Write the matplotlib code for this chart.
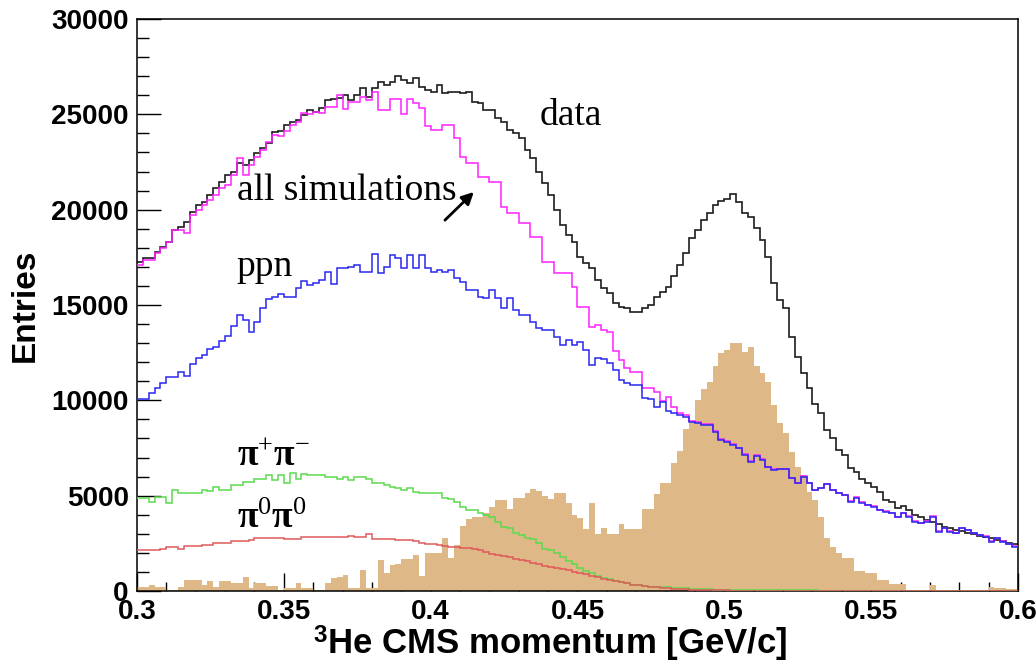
import numpy as np
import matplotlib
matplotlib.use("Agg")
import matplotlib.pyplot as plt
from matplotlib.ticker import MultipleLocator, FuncFormatter

# 150 bins of 2 MeV/c between 0.3 and 0.6 GeV/c
p_lo, p_hi, n_bins = 0.3, 0.6, 150

data = [
    17270, 17450, 17450, 17800, 18060, 18320, 18930, 19110, 19370, 19900,
    20250, 20420, 20770, 21120, 21470, 21820, 21990, 22430, 22350, 22600,
    22960, 23220, 23480, 24090, 24140, 24440, 24620, 24730, 24970, 25230,
    25140, 25320, 25750, 25790, 25840, 26010, 25750, 26010, 26370, 25930,
    26370, 26710, 26540, 26710, 27010, 26800, 26630, 26890, 26450, 26300,
    26190, 26540, 26100, 26190, 26150, 26100, 26190, 25670, 25580, 25230,
    25230, 24790, 24620, 24180, 24000, 23740, 23130, 22700, 21990, 21390,
    20770, 19980, 19200, 18670, 18320, 17530, 17190, 16930, 16310, 15900,
    15610, 15090, 14910, 14830, 14650, 14650, 14830, 15000, 15440, 15700,
    15960, 16500, 17100, 17750, 18500, 18930, 19460, 19810, 20250, 20470,
    20550, 20820, 20420, 19810, 19630, 19020, 18410, 17530, 16140, 15260,
    14830, 13340, 12290, 11420, 10630, 9800, 9320, 8440, 8000, 7400,
    7130, 6430, 6250, 5900, 5640, 5460, 5200, 4770, 4680, 4330,
    4460, 4250, 3990, 3900, 3720, 3640, 3500, 3370, 3280, 3200,
    3150, 3020, 3000, 2900, 2850, 2800, 2680, 2600, 2540, 2450,
]

all_sim = [
    17100, 17360, 17360, 17710, 17970, 18320, 18930, 18930, 18790, 19720,
    19980, 20250, 20510, 20770, 21120, 21290, 21820, 22700, 21820, 22340,
    22780, 23130, 23570, 23920, 23880, 24140, 24440, 24620, 25060, 25040,
    25140, 25060, 25400, 25400, 26010, 25260, 25670, 25670, 25930, 25760,
    26190, 25230, 25230, 25790, 25790, 25000, 25800, 25600, 25320, 24370,
    24180, 24180, 24440, 24440, 23740, 22760, 22450, 22450, 21720, 21720,
    21450, 21450, 20160, 19830, 19830, 19300, 19300, 18570, 18570, 17260,
    17260, 16680, 16680, 16680, 15950, 14900, 14900, 13850, 13940, 13690,
    13600, 12600, 12100, 11700, 11500, 11500, 10650, 10650, 10420, 9980,
    10200, 9630, 9360, 9230, 8920, 8840, 8740, 8740, 8400, 7960,
    7860, 7690, 7510, 7160, 6810, 7110, 6900, 6520, 6380, 6410,
    6410, 5930, 5670, 6020, 5670, 5320, 5410, 5630, 5320, 5140,
    5060, 4710, 4920, 4650, 4530, 4440, 4270, 4180, 4090, 3880,
    4090, 3920, 3660, 3570, 3660, 3920, 3130, 3300, 3130, 3040,
    3300, 3220, 3040, 2960, 2870, 2610, 2780, 2610, 2490, 2340,
]

ppn = [
    10050, 10050, 10370, 10630, 10930, 11240, 11240, 11500, 11270, 11900,
    12200, 12380, 12680, 12820, 13130, 13380, 13900, 14480, 14220, 13600,
    14130, 14830, 15300, 15440, 15580, 15440, 15440, 15880, 16280, 16030,
    16140, 16310, 16750, 16100, 16930, 16930, 17010, 17100, 16750, 16750,
    17680, 16660, 17010, 17620, 17450, 16930, 17620, 16930, 17620, 16930,
    16750, 16840, 16750, 16840, 16400, 16220, 15790, 15790, 15440, 15350,
    15790, 15350, 14830, 15350, 14740, 14480, 14480, 14130, 13780, 13690,
    13690, 13340, 12900, 13160, 12900, 13070, 12640, 11850, 12200, 12150,
    11950, 11600, 11070, 10900, 10800, 10800, 10100, 10050, 9630, 9900,
    9450, 9320, 9230, 9150, 8880, 8800, 8700, 8700, 8360, 7920,
    7830, 7660, 7480, 7130, 6780, 7080, 6870, 6490, 6350, 6390,
    6390, 5910, 5650, 6000, 5650, 5300, 5390, 5610, 5300, 5120,
    5040, 4690, 4900, 4630, 4510, 4420, 4250, 4160, 4070, 3860,
    4070, 3900, 3640, 3550, 3640, 3900, 3110, 3280, 3110, 3020,
    3280, 3200, 3020, 2940, 2850, 2590, 2760, 2590, 2470, 2320,
]

pipi_charged = [
    4860, 4860, 4690, 4950, 4950, 4640, 5300, 5120, 5120, 5120,
    5120, 5300, 5250, 5470, 5300, 5320, 5560, 5560, 5730, 5730,
    5900, 5860, 6080, 5820, 6080, 5640, 6210, 5900, 6160, 6080,
    6080, 6080, 6000, 6000, 5860, 5960, 5820, 5960, 5960, 5860,
    5640, 5640, 5560, 5470, 5420, 5300, 5380, 5210, 5150, 5150,
    5120, 5120, 4860, 4800, 4690, 4400, 4250, 4250, 4110, 4000,
    3900, 3600, 3380, 3300, 3020, 2950, 2770, 2720, 2500, 2200,
    2150, 1980, 1760, 1580, 1400, 1190, 1070, 930, 790, 670,
    620, 520, 490, 410, 320, 300, 280, 230, 220, 210,
    200, 160, 150, 140, 130, 100, 90, 80, 75, 70,
    65, 60, 55, 50, 50, 45, 45, 40, 40, 35,
    35, 35, 30, 30, 30, 30, 25, 25, 25, 25,
    25, 20, 20, 20, 20, 20, 20, 20, 15, 15,
    15, 15, 15, 15, 15, 15, 15, 10, 10, 10,
    10, 10, 10, 10, 10, 10, 10, 10, 10, 10,
]

pipi_neutral = [
    2150, 2150, 2160, 2170, 2200, 2290, 2290, 2200, 2360, 2360,
    2370, 2410, 2410, 2540, 2540, 2540, 2600, 2640, 2640, 2660,
    2760, 2760, 2760, 2760, 2800, 2730, 2730, 2740, 2820, 2820,
    2820, 2830, 2820, 2850, 2850, 2850, 2860, 2850, 2850, 2980,
    2730, 2720, 2720, 2710, 2700, 2660, 2660, 2600, 2500, 2480,
    2460, 2420, 2380, 2330, 2300, 2280, 2240, 2180, 2140, 2060,
    1960, 1900, 1860, 1800, 1700, 1620, 1560, 1480, 1420, 1330,
    1270, 1200, 1140, 1080, 1020, 960, 880, 800, 720, 640,
    580, 520, 460, 400, 340, 300, 260, 230, 200, 170,
    150, 120, 100, 80, 70, 60, 50, 40, 35, 30,
    28, 26, 24, 22, 20, 20, 18, 18, 16, 16,
    15, 15, 15, 15, 14, 14, 14, 14, 13, 13,
    13, 13, 12, 12, 12, 12, 12, 11, 11, 11,
    11, 11, 10, 10, 10, 10, 10, 10, 10, 10,
    10, 10, 10, 10, 10, 10, 10, 10, 10, 10,
]

# data minus all simulations (filled)
residual = [
    200, 200, 300, 200, 200, 50, 50, 200, 580, 580,
    580, 300, 500, 200, 500, 500, 400, 400, 750, 150,
    430, 430, 260, 260, 50, 150, 150, 430, 150, 150,
    50, 50, 400, 690, 750, 850, 150, 150, 1090, 150,
    150, 1650, 950, 1350, 1400, 1680, 1700, 1890, 800, 2000,
    2000, 2000, 2780, 1750, 2400, 3430, 3800, 3880, 3900, 4110,
    4400, 4780, 4780, 4300, 4900, 4900, 5160, 5330, 5220, 5000,
    4800, 5120, 5140, 4600, 4000, 3850, 3230, 4630, 2970, 3320,
    2970, 2970, 3500, 3230, 3230, 3230, 4280, 4280, 5070, 5680,
    5680, 6730, 7340, 8480, 8850, 10020, 10600, 10950, 11800, 12480,
    12640, 13020, 13020, 12560, 12800, 11800, 11430, 10980, 9760, 8810,
    8280, 7290, 6500, 6080, 5200, 4770, 3890, 2780, 2310, 1980,
    1720, 1720, 1050, 1050, 920, 920, 590, 590, 390, 350,
    350, 60, 60, 60, 60, 300, 30, 30, 30, 30,
    30, 30, 30, 30, 30, 210, 150, 150, 100, 100,
]

edges = np.linspace(p_lo, p_hi, n_bins + 1)

plt.rcParams["font.family"] = "Liberation Sans"
plt.rcParams["mathtext.fontset"] = "custom"
plt.rcParams["mathtext.rm"] = "Liberation Serif"
plt.rcParams["mathtext.it"] = "Liberation Serif:italic"
plt.rcParams["mathtext.bf"] = "Liberation Serif:bold"
plt.rcParams["mathtext.sf"] = "Liberation Sans:bold"

fig = plt.figure(figsize=(10.36, 6.63), dpi=100)
ax = fig.add_axes([0.1322, 0.1086, 0.8504, 0.8627])

ax.stairs(residual, edges, fill=True, baseline=0, color="#DEB887", lw=0, zorder=1)
ax.stairs(data, edges, baseline=None, color="#1c1c1c", lw=1.2, zorder=2)
ax.stairs(all_sim, edges, baseline=None, color="#FF22FF", lw=1.1, zorder=3)
ax.stairs(ppn, edges, baseline=None, color="#2828F0", lw=1.1, zorder=4)
ax.stairs(pipi_charged, edges, baseline=None, color="#5CDA4E", lw=1.1, zorder=5)
ax.stairs(pipi_neutral, edges, baseline=None, color="#E05A5A", lw=1.1, zorder=6)

ax.set_xlim(p_lo, p_hi)
ax.set_ylim(0, 30000)
ax.set_axisbelow(True)

ax.xaxis.set_major_locator(MultipleLocator(0.05))
ax.xaxis.set_minor_locator(MultipleLocator(0.01))
ax.yaxis.set_major_locator(MultipleLocator(5000))
ax.yaxis.set_minor_locator(MultipleLocator(1000))
ax.xaxis.set_major_formatter(FuncFormatter(lambda v, _: f"{v:g}"))
ax.yaxis.set_major_formatter(FuncFormatter(lambda v, _: f"{v:.0f}"))

ax.tick_params(axis="both", which="both", direction="in", top=False, right=False,
               width=1.0, colors="black")
ax.tick_params(axis="y", which="major", length=17, labelsize=20, pad=6)
ax.tick_params(axis="y", which="minor", length=8.5)
ax.tick_params(axis="x", which="major", length=13, labelsize=20, pad=5.5)
ax.tick_params(axis="x", which="minor", length=6.5)
for lab in ax.get_xticklabels() + ax.get_yticklabels():
    lab.set_fontweight("bold")
for sp in ax.spines.values():
    sp.set_linewidth(1.1)

ax.set_ylabel("Entries", fontsize=24, fontweight="bold")
ax.yaxis.set_label_coords(-0.109, 0.5)
ax.set_xlabel(r"$^{\mathsf{3}}$He CMS momentum [GeV/c]", fontsize=25, fontweight="bold")
ax.xaxis.label.set_va("baseline")
ax.xaxis.set_label_coords(0.469, -0.1115)

serif = dict(family="Liberation Serif", fontsize=27, color="black",
             ha="left", va="baseline", zorder=7)
ax.text(0.4372, 24440, "data", **serif)
ax.text(0.3340, 20500, "all simulations", **serif)
ax.text(0.3340, 16520, "ppn", **serif)
ax.text(0.3340, 6610, r"$\mathbf{\pi}^{+}\mathbf{\pi}^{-}$", **serif)
ax.text(0.3340, 3300, r"$\mathbf{\pi}^{0}\mathbf{\pi}^{0}$", **serif)
ax.annotate("", xy=(0.4154, 21030), xytext=(0.4042, 19350),
            arrowprops=dict(arrowstyle="-|>", color="black", lw=2.0,
                            mutation_scale=18), zorder=7)

fig.savefig("out.png", dpi=100)
